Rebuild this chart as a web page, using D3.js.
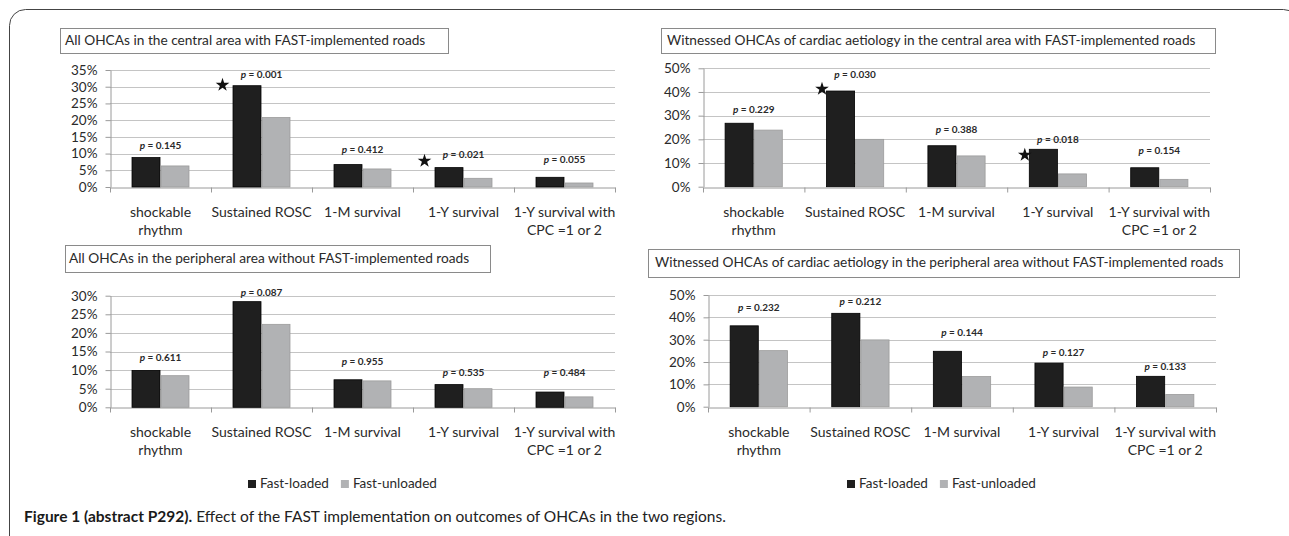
<!DOCTYPE html>
<html><head><meta charset="utf-8">
<script src="https://cdn.jsdelivr.net/npm/d3@7"></script>
<style>body{margin:0;background:#fff}svg{display:block}</style>
</head><body><svg id="c" width="1289" height="536"></svg>
<script>
// ---------- DATA ----------
const categoryLines = [["shockable", "rhythm"], ["Sustained ROSC"], ["1-M survival"], ["1-Y survival"], ["1-Y survival with", "CPC =1 or 2"]];
const seriesNames = ["Fast-loaded", "Fast-unloaded"];

const title1 = "All OHCAs in the central area with FAST-implemented roads";
const title2 = "Witnessed OHCAs of cardiac aetiology in the central area with FAST-implemented roads";
const title3 = "All OHCAs in the peripheral area without FAST-implemented roads";
const title4 = "Witnessed OHCAs of cardiac aetiology in the peripheral area without FAST-implemented roads";

const p1Loaded   = [8.8, 30.3, 6.7, 5.8, 2.9];
const p1Unloaded = [6.3, 20.8, 5.4, 2.6, 1.2];
const p2Loaded   = [26.8, 40.4, 17.3, 15.8, 8.0];
const p2Unloaded = [23.9, 20.0, 13.0, 5.4, 3.1];
const p3Loaded   = [9.9, 28.4, 7.4, 6.1, 4.1];
const p3Unloaded = [8.5, 22.3, 7.1, 5.0, 2.8];
const p4Loaded   = [36.2, 41.8, 24.8, 19.5, 13.6];
const p4Unloaded = [25.1, 29.9, 13.5, 8.8, 5.5];

const p1Values = ["0.145", "0.001", "0.412", "0.021", "0.055"];
const p2Values = ["0.229", "0.030", "0.388", "0.018", "0.154"];
const p3Values = ["0.611", "0.087", "0.955", "0.535", "0.484"];
const p4Values = ["0.232", "0.212", "0.144", "0.127", "0.133"];

// level (in %) at which each p-value annotation sits
const p1LabelAt = [12.3, 33.5, 11.1, 9.6, 8.1];
const p2LabelAt = [32.4, 47.2, 24.0, 19.7, 15.1];
const p3LabelAt = [13.3, 30.8, 12.2, 9.2, 9.2];
const p4LabelAt = [44.2, 46.9, 32.9, 24.0, 17.7];

// significance stars: category index and level (%)
const p1StarCats = [1, 3], p1StarAt = [30.5, 7.8];
const p2StarCats = [1, 3], p2StarAt = [41.3, 13.4];

const p1Ticks = [0, 5, 10, 15, 20, 25, 30, 35];
const p2Ticks = [0, 10, 20, 30, 40, 50];
const p3Ticks = [0, 5, 10, 15, 20, 25, 30];
const p4Ticks = [0, 10, 20, 30, 40, 50];

const captionBold = "Figure 1 (abstract P292).";
const captionText = " Effect of the FAST implementation on outcomes of OHCAs in the two regions.";

// ---------- LAYOUT ----------
const FONT = "Lato, 'Open Sans', sans-serif";
const panels = [
  {title: title1, loaded: p1Loaded, unloaded: p1Unloaded, pv: p1Values, pAt: p1LabelAt, ticks: p1Ticks, starCats: p1StarCats, starAt: p1StarAt,
   L: {x0: 110, x1: 615, y0: 187, yTop: 70, tb: [60, 28, 448, 53], tpad: 5, lab: 213, legend: null, starDx: -10}},
  {title: title2, loaded: p2Loaded, unloaded: p2Unloaded, pv: p2Values, pAt: p2LabelAt, ticks: p2Ticks, starCats: p2StarCats, starAt: p2StarAt,
   L: {x0: 703, x1: 1210, y0: 186.7, yTop: 68.3, tb: [661, 28, 1215, 53], tpad: 6, lab: 213, legend: null, starDx: -4}},
  {title: title3, loaded: p3Loaded, unloaded: p3Unloaded, pv: p3Values, pAt: p3LabelAt, ticks: p3Ticks, starCats: [], starAt: [],
   L: {x0: 110, x1: 615, y0: 407.3, yTop: 295.7, tb: [65, 245, 490, 272], tpad: 4, lab: 433, legend: [248, 484], starDx: 0}},
  {title: title4, loaded: p4Loaded, unloaded: p4Unloaded, pv: p4Values, pAt: p4LabelAt, ticks: p4Ticks, starCats: [], starAt: [],
   L: {x0: 708, x1: 1216, y0: 406.7, yTop: 295, tb: [648, 249, 1239, 277], tpad: 7, lab: 433, legend: [847, 484], starDx: 0}}
];
const colors = {"Fast-loaded": "#1f1f1f", "Fast-unloaded": "#b1b2b4"};
const strokes = {"Fast-loaded": "#000", "Fast-unloaded": "#9c9c9c"};

const svg = d3.select("#c");
// outer frame (bottom extends past the page)
svg.append("rect").attr("x", 9.5).attr("y", 9.5).attr("width", 1290).attr("height", 600).attr("rx", 16)
  .attr("fill", "none").attr("stroke", "#444").attr("stroke-width", 1);

panels.forEach(P => {
  const L = P.L;
  const g = svg.append("g");
  const y = d3.scaleLinear().domain([0, d3.max(P.ticks)]).range([L.y0, L.yTop]);
  const x = d3.scaleBand().domain(d3.range(categoryLines.length)).range([L.x0, L.x1]).paddingInner(0.426).paddingOuter(0.213);
  const xs = d3.scaleBand().domain(seriesNames).range([0, x.bandwidth()]);
  const xb = d3.scaleLinear().domain([0, categoryLines.length]).range([L.x0, L.x1]);

  // title box
  const [bx0, by0, bx1, by1] = L.tb;
  g.append("rect").attr("x", bx0 + 0.5).attr("y", by0 + 0.5).attr("width", bx1 - bx0).attr("height", by1 - by0)
    .attr("fill", "#fff").attr("stroke", "#8a8a8a");
  g.append("text").attr("x", bx0 + L.tpad).attr("y", (by0 + by1) / 2 + 1).attr("dominant-baseline", "middle")
    .attr("font-family", FONT).attr("font-size", 13.7).attr("fill", "#2a2a2a").text(P.title);

  // gridlines
  g.append("g").selectAll("line").data(P.ticks.filter(t => t > 0)).join("line")
    .attr("x1", L.x0).attr("x2", L.x1).attr("y1", d => Math.round(y(d)) + 0.5).attr("y2", d => Math.round(y(d)) + 0.5)
    .attr("stroke", "#c4c4c4").attr("stroke-width", 1.2);

  // y axis
  const ya = g.append("g").attr("transform", `translate(${L.x0 + 0.5},0)`)
    .call(d3.axisLeft(y).tickValues(P.ticks).tickFormat(d => d + "%").tickSize(5).tickSizeOuter(0).tickPadding(8));
  ya.select(".domain").attr("stroke", "#9a9a9a");
  ya.selectAll(".tick line").attr("stroke", "#9a9a9a");
  ya.selectAll(".tick text").attr("font-family", FONT).attr("font-size", 13.5).attr("fill", "#2a2a2a");

  // x axis baseline with ticks at category boundaries
  const xa = g.append("g").attr("transform", `translate(0,${Math.round(L.y0) + 0.5})`)
    .call(d3.axisBottom(xb).tickValues(d3.range(categoryLines.length + 1)).tickFormat("").tickSize(5).tickSizeOuter(0));
  xa.select(".domain").attr("stroke", "#9a9a9a");
  xa.selectAll(".tick line").attr("stroke", "#9a9a9a");

  // bars
  const rows = P.loaded.map((v, i) => ({i, vals: [{s: "Fast-loaded", v}, {s: "Fast-unloaded", v: P.unloaded[i]}]}));
  g.append("g").selectAll("g").data(rows).join("g")
    .attr("transform", d => `translate(${x(d.i)},0)`)
    .selectAll("rect").data(d => d.vals).join("rect")
    .attr("x", d => xs(d.s) + 0.5).attr("width", xs.bandwidth() - 1)
    .attr("y", d => y(d.v)).attr("height", d => y(0) - y(d.v))
    .attr("fill", d => colors[d.s]).attr("stroke", d => strokes[d.s]).attr("stroke-width", 0.8);

  // category labels
  const cl = g.append("g").selectAll("text").data(categoryLines).join("text")
    .attr("font-family", FONT).attr("font-size", 14).attr("fill", "#2a2a2a").attr("text-anchor", "middle");
  cl.each(function(lines, i) {
    d3.select(this).selectAll("tspan").data(lines).join("tspan")
      .attr("x", x(i) + x.bandwidth() / 2).attr("y", (d, k) => L.lab + k * 18.5).attr("dominant-baseline", "middle").text(d => d);
  });

  // p-value labels
  const pl = g.append("g").selectAll("text").data(P.pv).join("text")
    .attr("x", (d, i) => x(i) + x.bandwidth() / 2).attr("y", (d, i) => y(P.pAt[i]))
    .attr("dominant-baseline", "middle").attr("text-anchor", "middle")
    .attr("font-family", FONT).attr("font-size", 10).attr("font-weight", "bold").attr("fill", "#2a2a2a");
  pl.append("tspan").attr("font-style", "italic").text("p");
  pl.append("tspan").text(d => " = " + d);

  // stars
  g.append("g").selectAll("path").data(P.starCats).join("path")
    .attr("d", d3.symbol(d3.symbolStar).size(58))
    .attr("transform", (c, k) => `translate(${x(c) + L.starDx},${y(P.starAt[k])})`)
    .attr("fill", "#111");

  // legend
  if (L.legend) {
    const [lx, ly] = L.legend;
    const lg = g.append("g").attr("transform", `translate(${lx},${ly})`);
    let off = 0;
    seriesNames.forEach((s, k) => {
      const item = lg.append("g").attr("transform", `translate(${off},0)`);
      item.append("rect").attr("x", 0).attr("y", -4).attr("width", 8).attr("height", 8).attr("fill", colors[s]);
      const t = item.append("text").attr("x", 12).attr("y", 1).attr("dominant-baseline", "middle")
        .attr("font-family", FONT).attr("font-size", 13.5).attr("fill", "#2a2a2a").text(s);
      off += 12 + t.node().getComputedTextLength() + 12;
    });
  }
});

// caption
const cap = svg.append("text").attr("x", 24).attr("y", 518).attr("dominant-baseline", "middle")
  .attr("font-family", FONT).attr("font-size", 15.5).attr("fill", "#222");
cap.append("tspan").attr("font-weight", "bold").attr("fill", "#1a1a1a").text(captionBold);
cap.append("tspan").text(captionText);
</script></body></html>
